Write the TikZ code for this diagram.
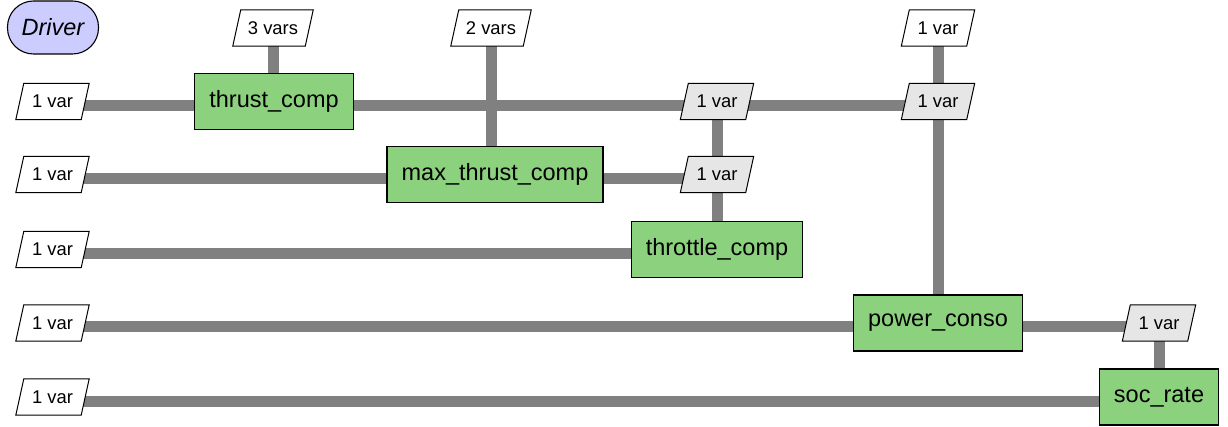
\documentclass[tikz,border=0pt]{standalone}
\usepackage{fontspec}
\setmainfont{Liberation Sans}
\pgfdeclarelayer{links}
\pgfdeclarelayer{boxes}
\pgfsetlayers{links,boxes,main}
\definecolor{compgreen}{RGB}{140,210,126}
\definecolor{drvblue}{RGB}{204,204,255}
\definecolor{cplgray}{RGB}{230,230,230}
\definecolor{linkgray}{RGB}{128,128,128}
\tikzset{
  comp/.style={draw=black, line width=1.3pt, fill=compgreen, rectangle,
    inner xsep=14.5pt, inner ysep=0pt, minimum height=56pt,
    font=\fontsize{23.5}{26}\selectfont},
  driver/.style={draw=black, line width=1.1pt, fill=drvblue, rectangle,
    rounded corners=26pt, minimum width=91pt, minimum height=53pt,
    font=\fontsize{23.5}{26}\selectfont\itshape},
  % text holder of a data block; its slanted outline is drawn on the boxes layer
  dataio/.style={rectangle, inner xsep=11pt, inner ysep=0pt,
    minimum width=65pt, minimum height=36pt,
    font=\fontsize{18.4}{20}\selectfont},
  pshape/.style={draw=black, line width=1pt, line join=miter},
  link/.style={draw=linkgray, line width=11pt}
}
\begin{document}
\begin{tikzpicture}[x=1pt,y=-1pt]
\useasboundingbox (0,0) rectangle (1228,427);

% driver
\node[driver] (drv) at (53,27.5) {Driver};

% disciplines on the diagonal
\node[comp] (thrust) at (274,101.5) {thrust\_comp};
\node[comp] (maxthrust) at (495,174.5) {max\_thrust\_comp};
\node[comp] (throttle) at (717,249.5) {throttle\_comp};
\node[comp] (power) at (938,323) {power\_conso};
\node[comp] (soc) at (1159,397) {soc\_rate};

% inputs on the left
\node[dataio] (in1) at (52.5,101.5) {1 var};
\node[dataio] (in2) at (52.5,174.5) {1 var};
\node[dataio] (in3) at (52.5,249.5) {1 var};
\node[dataio] (in4) at (52.5,323) {1 var};
\node[dataio] (in5) at (52.5,397) {1 var};

% outputs on top
\node[dataio] (out1) at (273,28) {3 vars};
\node[dataio] (out2) at (491,28) {2 vars};
\node[dataio] (out4) at (938,28) {1 var};

% couplings between disciplines
\node[dataio] (c13) at (717,101.5) {1 var};
\node[dataio] (c14) at (938,101.5) {1 var};
\node[dataio] (c23) at (717,174.5) {1 var};
\node[dataio] (c45) at (1159,323) {1 var};

% slanted outlines of the data blocks
\begin{pgfonlayer}{boxes}
  \foreach \n/\c in {in1/white, in2/white, in3/white, in4/white, in5/white,
                     out1/white, out2/white, out4/white,
                     c13/cplgray, c14/cplgray, c23/cplgray, c45/cplgray}
    \draw[pshape, fill=\c] ([xshift=-4pt]\n.south west) -- ([xshift=4pt]\n.north west)
      -- ([xshift=4pt]\n.north east) -- ([xshift=-4pt]\n.south east) -- cycle;
\end{pgfonlayer}

\begin{pgfonlayer}{links}
  % rows
  \draw[link] ([yshift=-4pt]in1.center) -- ([yshift=-4pt]c14.center);
  \draw[link] ([yshift=-4pt]in2.center) -- ([yshift=-4pt]c23.center);
  \draw[link] ([yshift=-4pt]in3.center) -- ([yshift=-4pt]throttle.center);
  \draw[link] ([yshift=-4pt]in4.center) -- ([yshift=-4pt]c45.center);
  \draw[link] ([yshift=-4pt]in5.center) -- ([yshift=-4pt]soc.center);
  % columns
  \draw[link] (out1.center) -- (out1 |- thrust.center);
  \draw[link] (out2.center) -- (out2 |- maxthrust.center);
  \draw[link] (c13.center) -- (c13 |- throttle.center);
  \draw[link] (out4.center) -- (out4 |- power.center);
  \draw[link] (c45.center) -- (c45 |- soc.center);
\end{pgfonlayer}
\end{tikzpicture}
\end{document}
